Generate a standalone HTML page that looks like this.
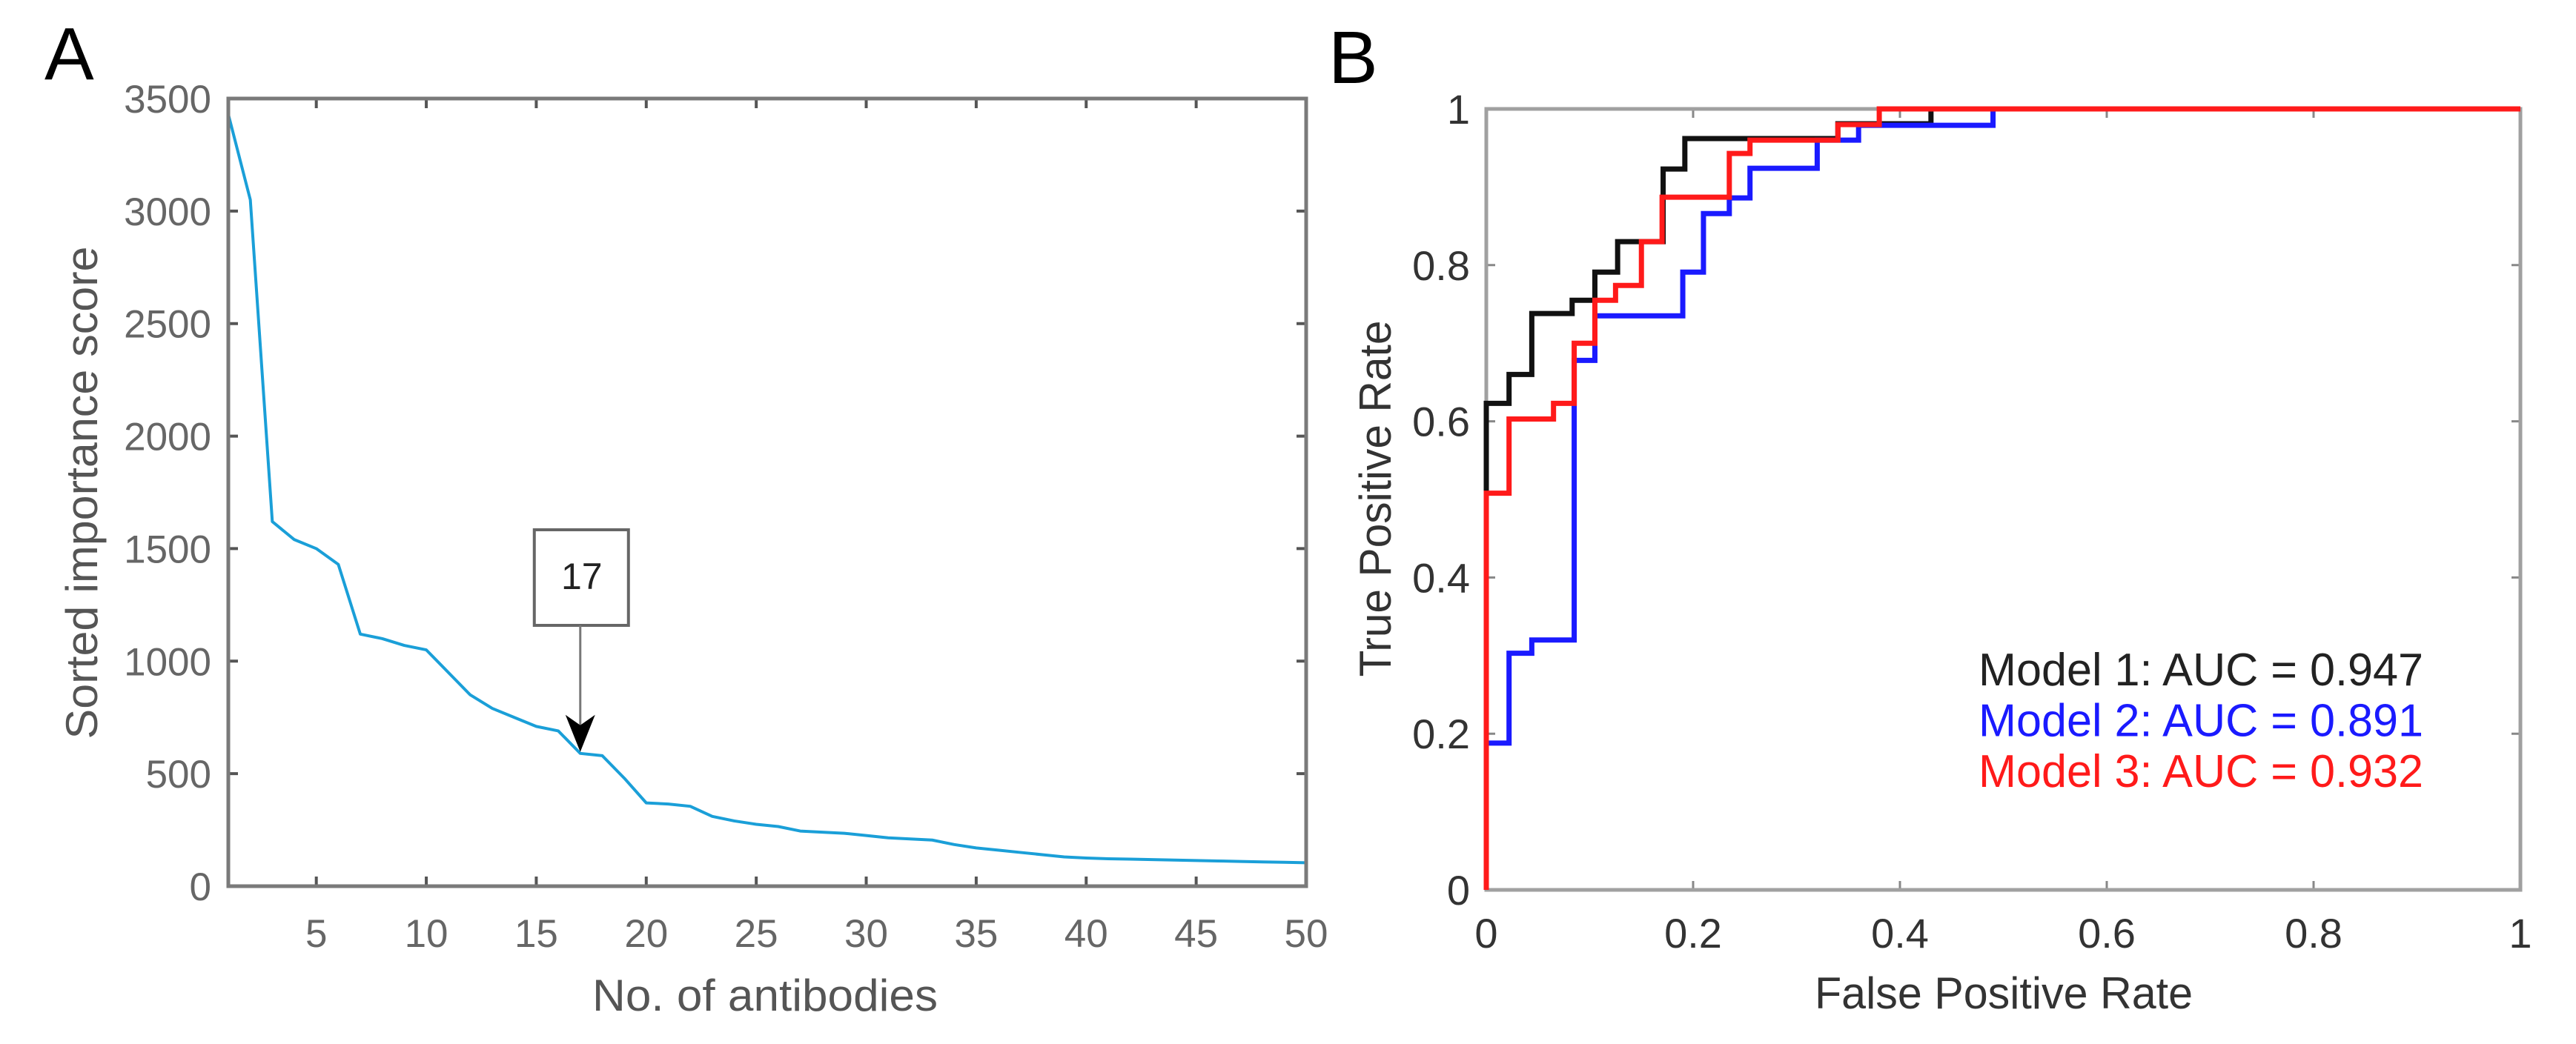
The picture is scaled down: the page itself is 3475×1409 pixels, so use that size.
<!DOCTYPE html>
<html><head><meta charset="utf-8"><style>
html,body{margin:0;padding:0;background:#fff;}
svg{display:block;font-family:"Liberation Sans",Arial,sans-serif;}
</style></head><body>
<svg id="fig" width="3475" height="1409" viewBox="0 0 3475 1409" xmlns="http://www.w3.org/2000/svg">
<rect width="3475" height="1409" fill="#fff"/>
<text x="60" y="107" font-size="100" fill="#000">A</text>
<text x="1792" y="112" font-size="100" fill="#000">B</text>
<g id="ga"></g>
<g id="gb"></g>
</svg>
<script>
const NS="http://www.w3.org/2000/svg";
// Panel A data
const aCounts=[1,2,3,4,5,6,7,8,9,10,11,12,13,14,15,16,17,18,19,20,21,22,23,24,25,26,27,28,29,30,31,32,33,34,35,36,37,38,39,40,41,42,43,44,45,46,47,48,49,50];
const aScores=[3430,3050,1620,1540,1500,1430,1120,1100,1070,1050,950,850,790,750,710,690,590,580,480,370,365,355,310,290,275,265,245,240,235,225,215,210,205,185,170,160,150,140,130,125,122,120,118,116,114,112,110,108,106,104];
const aXTicks=[5,10,15,20,25,30,35,40,45,50];
const aYTicks=[0,500,1000,1500,2000,2500,3000,3500];
const aMarked=17;
// Panel B data
const bTicks=[0,0.2,0.4,0.6,0.8,1];
const model1FPR=[0,0,0.022,0.022,0.044,0.044,0.083,0.083,0.105,0.105,0.127,0.127,0.171,0.171,0.192,0.192,0.34,0.34,0.43,0.43,1];
const model1TPR=[0,0.623,0.623,0.66,0.66,0.738,0.738,0.755,0.755,0.791,0.791,0.83,0.83,0.923,0.923,0.962,0.962,0.981,0.981,1,1];
const model2FPR=[0,0,0.022,0.022,0.044,0.044,0.085,0.085,0.105,0.105,0.19,0.19,0.21,0.21,0.235,0.235,0.255,0.255,0.32,0.32,0.36,0.36,0.49,0.49,1];
const model2TPR=[0,0.188,0.188,0.303,0.303,0.32,0.32,0.678,0.678,0.735,0.735,0.791,0.791,0.866,0.866,0.886,0.886,0.924,0.924,0.96,0.96,0.979,0.979,1,1];
const model3FPR=[0,0,0.022,0.022,0.065,0.065,0.085,0.085,0.105,0.105,0.125,0.125,0.15,0.15,0.17,0.17,0.235,0.235,0.255,0.255,0.34,0.34,0.38,0.38,1];
const model3TPR=[0,0.508,0.508,0.603,0.603,0.623,0.623,0.70,0.70,0.755,0.755,0.774,0.774,0.83,0.83,0.887,0.887,0.943,0.943,0.96,0.96,0.98,0.98,1,1];
const legendLabels=["Model 1: AUC = 0.947","Model 2: AUC = 0.891","Model 3: AUC = 0.932"];

function mk(tag,attrs,parent){const e=document.createElementNS(NS,tag);for(const k in attrs)e.setAttribute(k,attrs[k]);parent.appendChild(e);return e;}

// ---- Panel A ----
const ga=document.getElementById('ga');
const AL=308,AR=1762,AT=133,AB=1196;
const ax=v=>AL+(v-1)/(50-1)*(AR-AL);
const ay=v=>AB-v/3500*(AB-AT);
let pts=aCounts.map((c,i)=>ax(c)+","+ay(aScores[i])).join(" ");
let la=mk('polyline',{points:pts,fill:'none',stroke:'#1a9fd8','stroke-width':4,'stroke-linejoin':'round'},ga);


aXTicks.forEach(t=>{
  const x=ax(t);
  const tk=mk('path',{d:`M${x},${AB}v-13M${x},${AT}v13`,stroke:'#555','stroke-width':4},ga);
  
  
  const tl=mk('text',{x:x,y:1278,'font-size':53,fill:'#666','text-anchor':'middle'},ga);tl.textContent=t;
  
  
});
aYTicks.forEach(t=>{
  const y=ay(t);
  const tk=mk('path',{d:`M${AL},${y}h13M${AR},${y}h-13`,stroke:'#555','stroke-width':4},ga);
  
  
  const tl=mk('text',{x:285,y:y+19,'font-size':53,fill:'#666','text-anchor':'end'},ga);tl.textContent=t;
  
  
});
let fa=mk('rect',{x:AL,y:AT,width:AR-AL,height:AB-AT,fill:'none',stroke:'#7a7a7a','stroke-width':5},ga);


let xt=mk('text',{x:1032,y:1364,'font-size':60,fill:'#555','text-anchor':'middle',textLength:466,lengthAdjust:'spacingAndGlyphs'},ga);xt.textContent="No. of antibodies";


let yt=mk('text',{x:0,y:0,'font-size':60,fill:'#555','text-anchor':'middle',textLength:665,lengthAdjust:'spacingAndGlyphs',transform:'translate(131,665) rotate(-90)'},ga);yt.textContent="Sorted importance score";


// annotation
const mx=ax(aMarked), my=ay(aScores[aMarked-1]);
let box=mk('rect',{x:mx-62,y:715,width:127,height:129,fill:'#fff',stroke:'#666','stroke-width':4},ga);


let bt=mk('text',{x:mx+2,y:795,'font-size':50,fill:'#222','text-anchor':'middle'},ga);bt.textContent=aMarked;


let ar=mk('line',{x1:mx,y1:844,x2:mx,y2:my-30,stroke:'#777','stroke-width':3},ga);


let ah=mk('path',{d:`M${mx},${my-2} L${mx-20},${my-52} L${mx},${my-38} L${mx+20},${my-52} Z`,fill:'#000'},ga);



// ---- Panel B ----
const gb=document.getElementById('gb');
const BL=2005,BR=3400,BT=147,BB=1201;
const bx=v=>BL+v*(BR-BL);
const by=v=>BB-v*(BB-BT);
bTicks.forEach(t=>{
  const x=bx(t),y=by(t);
  const tk=mk('path',{d:`M${x},${BB}v-12M${x},${BT}v12M${BL},${y}h12M${BR},${y}h-12`,stroke:'#888','stroke-width':3},gb);
  
  
  const tl=mk('text',{x:x,y:1279,'font-size':56,fill:'#333','text-anchor':'middle'},gb);tl.textContent=t;
  
  
  const yl=mk('text',{x:1983,y:y+20,'font-size':56,fill:'#333','text-anchor':'end'},gb);yl.textContent=t;
  
  
});
let fb=mk('rect',{x:BL,y:BT,width:BR-BL,height:BB-BT,fill:'none',stroke:'#a0a0a0','stroke-width':5},gb);


const series=[[model1FPR,model1TPR,'#111','roc-model-1'],[model2FPR,model2TPR,'#1a1aff','roc-model-2'],[model3FPR,model3TPR,'#ff1a1a','roc-model-3']];
series.forEach(s=>{
  const p=s[0].map((f,i)=>bx(f)+","+by(s[1][i])).join(" ");
  const l=mk('polyline',{points:p,fill:'none',stroke:s[2],'stroke-width':7,'stroke-linejoin':'miter'},gb);
  
  
});
const legColors=['#222','#1a1aff','#ff1a1a'];
legendLabels.forEach((s,i)=>{
  const t=mk('text',{x:2669,y:925+i*68.5,'font-size':62,fill:legColors[i],textLength:600,lengthAdjust:'spacingAndGlyphs'},gb);t.textContent=s;
  
  
});
let xb=mk('text',{x:2703,y:1361,'font-size':60,fill:'#333','text-anchor':'middle',textLength:510,lengthAdjust:'spacingAndGlyphs'},gb);xb.textContent="False Positive Rate";


let yb=mk('text',{x:0,y:0,'font-size':60,fill:'#333','text-anchor':'middle',textLength:481,lengthAdjust:'spacingAndGlyphs',transform:'translate(1876,673) rotate(-90)'},gb);yb.textContent="True Positive Rate";


</script>
</body></html>
